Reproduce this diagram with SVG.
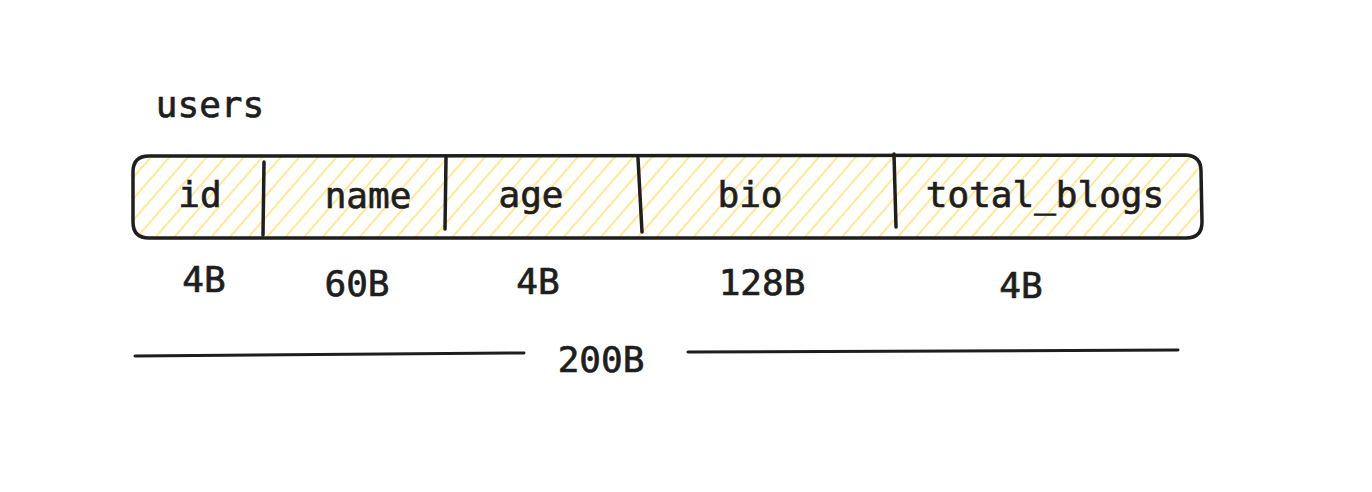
<svg xmlns="http://www.w3.org/2000/svg" width="1372" height="492" viewBox="0 0 1372 492">
<defs>
<pattern id="hatch" patternUnits="userSpaceOnUse" width="14" height="14" patternTransform="rotate(41)">
<line x1="7" y1="-2" x2="7" y2="16" stroke="#ffe896" stroke-width="2"/>
</pattern>
</defs>
<style>
.lbl{font-family:"DejaVu Sans Mono","Liberation Mono",monospace;font-size:36px;fill:#1e1e1e;stroke:#1e1e1e;stroke-width:0.7;text-anchor:middle}
.stk{fill:none;stroke:#1e1e1e;stroke-width:3.5;stroke-linecap:round;stroke-linejoin:round}
.thin{fill:none;stroke:#1e1e1e;stroke-width:3;stroke-linecap:round}
</style>
<rect width="1372" height="492" fill="#ffffff"/>
<g id="title">
<text class="lbl" x="210" y="117">users</text>
</g>
<g id="record">
<rect x="133" y="156" width="1069" height="82" rx="16" ry="16" fill="url(#hatch)"/>
<path class="stk" d="M149 156 L1186 155 Q1201 156 1201 171 L1202 222 Q1202 238 1186 238 L149 238 Q133 238 133 222 L133 172 Q133 156 149 156 Z"/>
</g>
<g id="connectors">
<path class="stk" d="M264 162 L263 235"/>
<path class="stk" d="M446 158 L445 229"/>
<path class="stk" d="M638 158 L642 232"/>
<path class="stk" d="M894 154 L896 227"/>
<path class="thin" d="M135 356 L524 353"/>
<path class="thin" d="M688 352 L1178 350"/>
</g>
<g id="field-id"><text class="lbl" x="200" y="207">id</text><text class="lbl" x="204" y="292">4B</text></g>
<g id="field-name"><text class="lbl" x="368" y="208">name</text><text class="lbl" x="357" y="296">60B</text></g>
<g id="field-age"><text class="lbl" x="531" y="207">age</text><text class="lbl" x="538" y="294">4B</text></g>
<g id="field-bio"><text class="lbl" x="750" y="207">bio</text><text class="lbl" x="762" y="295">128B</text></g>
<g id="field-total_blogs"><text class="lbl" x="1045" y="207">total_blogs</text><text class="lbl" x="1021" y="298">4B</text></g>
<g id="total"><text class="lbl" x="601" y="372">200B</text></g>
</svg>
